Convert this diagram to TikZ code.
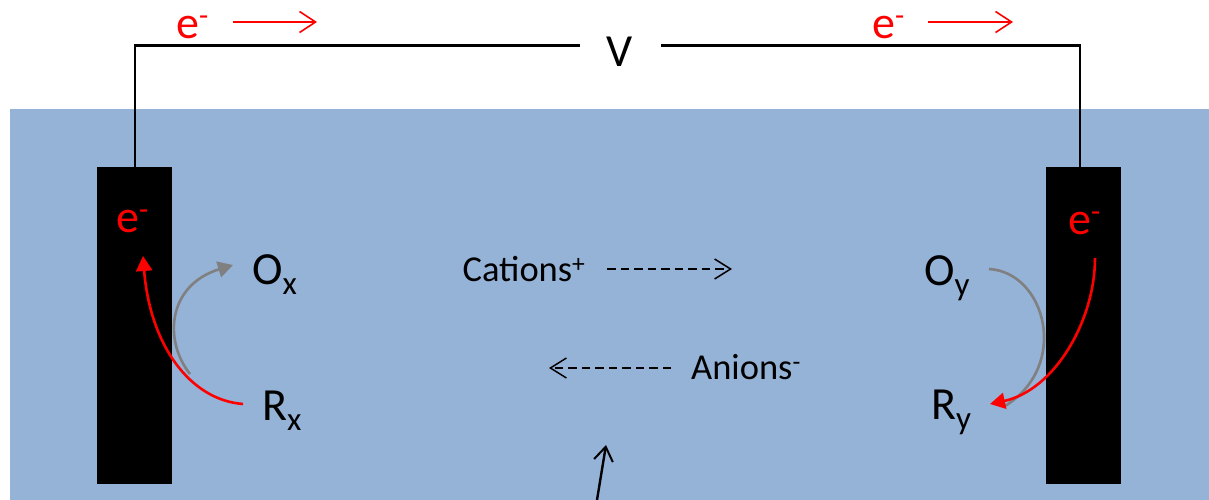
\documentclass[tikz,border=0pt]{standalone}
\usepackage{fontspec}
\setmainfont{Carlito}
\usetikzlibrary{arrows.meta}
\newcommand{\lsub}[1]{\raisebox{-10pt}{\fontsize{33}{33}\selectfont #1}}
\newcommand{\lsup}{\raisebox{13pt}{\fontsize{30}{30}\selectfont -}}
\tikzset{
 lab/.style={inner sep=0pt,anchor=base west,font=\fontsize{46}{46}\selectfont},
 slab/.style={inner sep=0pt,font=\fontsize{36.5}{36.5}\selectfont},
 wire/.style={line width=2.1pt,black},
 redarrow/.style={line width=1.6pt,red,-{Straight Barb[length=16pt,width=21pt,line width=1.6pt]}},
 curvred/.style={line width=2.6pt,red,-{Triangle[length=15pt,width=16pt]}},
 curvgray/.style={line width=2.6pt,gray,-{Triangle[length=15pt,width=16pt]}},
 dash1/.style={line width=1.5pt,black,dash pattern=on 8.5pt off 5pt,-{Straight Barb[length=16pt,width=20pt,line width=1.5pt]}},
 elec/.style={fill=black,draw=none},
}
\begin{document}
\begin{tikzpicture}[x=1pt,y=-1pt,every node/.style={text=black}]
\useasboundingbox (0,0) rectangle (1209,500);
\fill[white] (0,0) rectangle (1209,500);
\fill[fill={rgb,255:red,149;green,178;blue,215}] (10,109) rectangle (1209,500);
\node[elec,minimum width=75.5pt,minimum height=317pt,inner sep=0pt] (L) at (134.5,325.5) {};
\node[elec,minimum width=75.5pt,minimum height=317pt,inner sep=0pt] (R) at (1083.5,325.5) {};
\node[lab,anchor=center] (V) at (620,52) {V};
\coordinate (TL) at (135,45.5);
\coordinate (TR) at (1080,45.5);
\coordinate (LB) at (135,167);
\coordinate (RB) at (1080,167);
\draw[wire] (V.center) ++(-40,-6.5) -- (TL) -- (LB);
\draw[wire] (V.center) ++(41,-6.5) -- (TR) -- (RB);
\node[lab,text=red] (e1) at (176,39) {e\lsup};
\node[lab,text=red] (e2) at (872,39) {e\lsup};
\coordinate (a1s) at (233,22); \coordinate (a1e) at (317,22);
\coordinate (a2s) at (928,22); \coordinate (a2e) at (1013,22);
\draw[redarrow] (a1s) -- (a1e);
\draw[redarrow] (a2s) -- (a2e);
\node[lab,text=red] (eL) at (116,232) {e\lsup};
\node[lab,text=red] (eR) at (1068,234) {e\lsup};
\node[lab] (Ox) at (252,284) {O\lsub{x}};
\node[lab] (Rx) at (262,420) {R\lsub{x}};
\node[lab] (Oy) at (924,285) {O\lsub{y}};
\node[lab] (Ry) at (931,419) {R\lsub{y}};
\node[slab] (Cat) at (524,269) {Cations\textsuperscript{+}};
\node[slab] (An) at (746,367) {Anions\textsuperscript{-}};
\coordinate (cs) at (607,269); \coordinate (ce) at (732,269);
\coordinate (as) at (671,368); \coordinate (ae) at (549,368);
\draw[dash1] (cs) -- (ce);
\draw[dash1] (as) -- (ae);
\coordinate (ba) at (597,500); \coordinate (bb) at (606,445);
\draw[line width=2.4pt,-{Straight Barb[length=14pt,width=19pt,line width=2pt]}] (ba) -- (bb);
\coordinate (g1) at (190,374); \coordinate (g2) at (233,265);
\draw[curvgray] (g1) .. controls (163,340) and (168,285) .. (g2);
\coordinate (r1) at (243,404); \coordinate (r2) at (143,256);
\draw[curvred] (r1) .. controls (190,400) and (150,345) .. (r2);
\coordinate (g3) at (989,269); \coordinate (g4) at (1005,406);
\draw[line width=2.6pt,gray] (g3) .. controls (1045,272) and (1071,365) .. (g4);
\coordinate (r3) at (1095,258); \coordinate (r4) at (990,404);
\draw[curvred] (r3) .. controls (1095,320) and (1055,390) .. (r4);
\end{tikzpicture}
\end{document}
